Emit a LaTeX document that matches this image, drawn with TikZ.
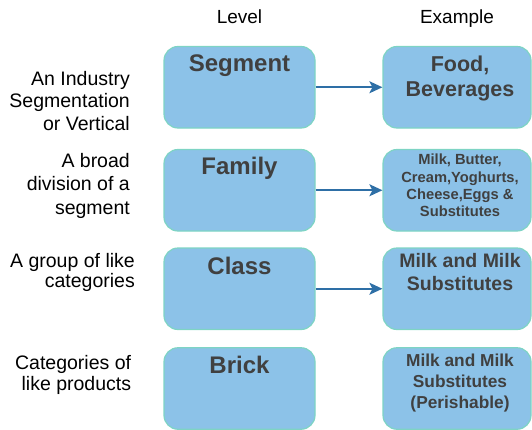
\documentclass[tikz,border=0pt]{standalone}
\usepackage{fontspec}
\setmainfont{Liberation Sans}
\usetikzlibrary{arrows.meta}
\definecolor{boxfill}{HTML}{8CC2E8}
\definecolor{boxline}{HTML}{7ED4C4}
\definecolor{ink}{HTML}{404040}
\definecolor{flowblue}{HTML}{2E6FA6}
\begin{document}
\begin{tikzpicture}[x=1pt,y=-1pt]
\tikzset{lvlbox/.style={draw=boxline, fill=boxfill, line width=1.2pt, rounded corners=14pt, minimum width=151pt, minimum height=81.5pt, inner sep=0pt},
  exbox/.style={lvlbox, minimum width=148pt},
  lvlname/.style={anchor=base, text=ink, font=\fontsize{24}{28}\selectfont\bfseries},
  extext/.style={anchor=north, align=center, inner sep=0pt, text=ink},
  desc/.style={anchor=north east, align=right, inner sep=0pt, text=black},
  head/.style={anchor=base, font=\fontsize{19}{22}\selectfont},
  flow/.style={draw=flowblue, line width=1.6pt, -{Stealth[length=13pt, width=12pt, inset=3pt]}}}
\useasboundingbox (0,0) rectangle (532,429);
\clip (0,0) rectangle (532,429);
\node[head] (HL) at (239.5,23) {Level};
\node[head] (HE) at (457,23) {Example};
\node[lvlbox] (L1) at (239.5,87.25) {};
\node[lvlbox] (L2) at (239.5,190.25) {};
\node[lvlbox] (L3) at (239.5,288.75) {};
\node[lvlbox] (L4) at (239.5,388.5) {};
\node[exbox] (R1) at (457,87.25) {};
\node[exbox] (R2) at (457,190.25) {};
\node[exbox] (R3) at (457,288.75) {};
\node[exbox] (R4) at (457,388.5) {};
\node[lvlname] (N1) at (239.5,71.3) {Segment};
\node[lvlname] (N2) at (239.5,174) {Family};
\node[lvlname] (N3) at (239.5,274) {Class};
\node[lvlname] (N4) at (239.5,373.3) {Brick};
\node[extext, font=\fontsize{21.5}{24.7}\selectfont\bfseries] (E1) at (460,55.8) {Food,\\Beverages};
\node[extext, font=\fontsize{14.7}{17.4}\selectfont\bfseries] (E2) at (460,153.8) {Milk, Butter,\\Cream,Yoghurts,\\Cheese,Eggs \&\\Substitutes};
\node[extext, font=\fontsize{19.5}{23}\selectfont\bfseries] (E3) at (460,253) {Milk and Milk\\Substitutes};
\node[extext, font=\fontsize{17.3}{20.9}\selectfont\bfseries] (E4) at (460,354) {Milk and Milk\\Substitutes\\(Perishable)};
\node[desc, font=\fontsize{19.5}{22.5}\selectfont] (D1) at (130,71) {An Industry\\Segmentation\\or Vertical};
\node[desc, font=\fontsize{19.5}{23.5}\selectfont] (D2) at (130,153) {A broad\\division of a\\segment};
\node[desc, font=\fontsize{19.5}{20}\selectfont] (D3) at (135,253) {A group of like\\categories};
\node[desc, font=\fontsize{19.5}{21.3}\selectfont] (D4) at (131.3,355) {Categories of\\like products};
\draw[flow] (L1) -- (R1);
\draw[flow] (L2) -- (R2);
\draw[flow] (L3) -- (R3);
\end{tikzpicture}
\end{document}
